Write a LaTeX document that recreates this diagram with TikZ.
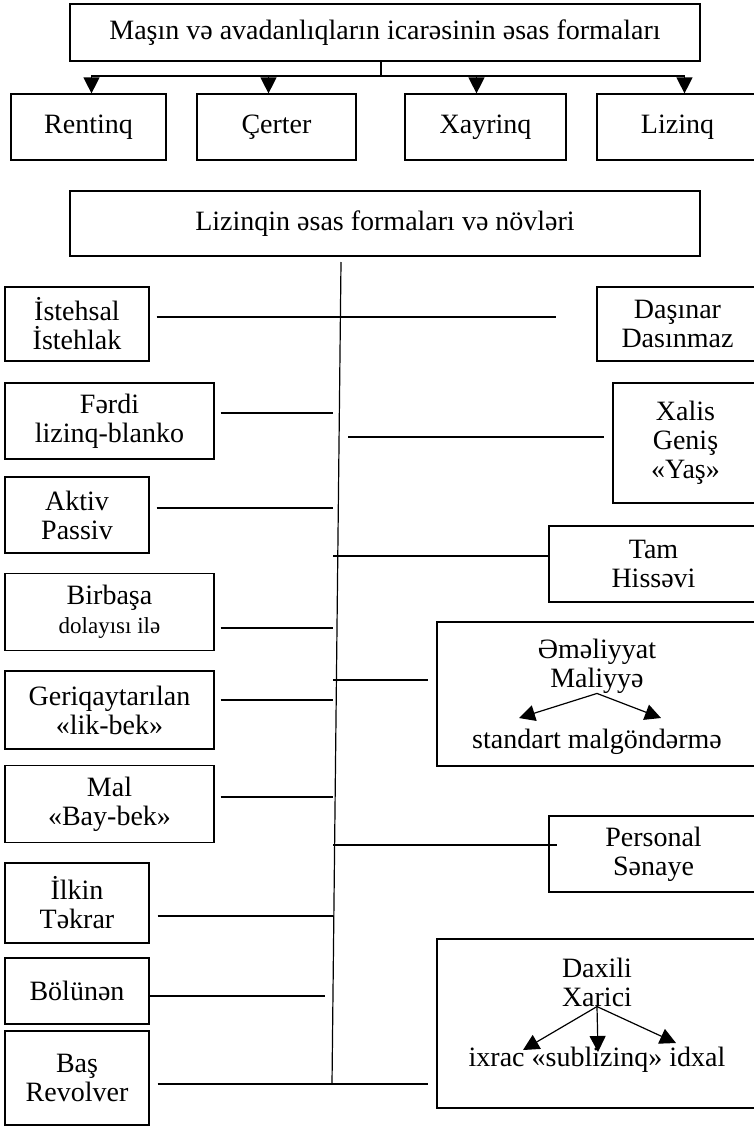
\documentclass[tikz,border=0pt]{standalone}
\usepackage{fontspec}
\setmainfont{Liberation Serif}
\usetikzlibrary{arrows.meta}
\tikzset{
  box/.style={draw, line width=1.2pt, align=center, inner sep=0pt},
  ln/.style={line width=1.2pt},
  arr/.style={line width=1.2pt, -{Triangle[length=16pt,width=16pt]}},
}
\begin{document}
\begin{tikzpicture}[x=1pt, y=-1pt, font=\fontsize{28}{29}\selectfont]
  \useasboundingbox (0,0) rectangle (753,1127);
  % top
  \node[box, minimum width=630, minimum height=57] (top) at (385,32.5) {Maşın və avadanlıqların icarəsinin əsas formaları};
  \node[box, minimum width=155, minimum height=66] (rent) at (88.5,127) {Rentinq};
  \node[box, minimum width=159, minimum height=66] (cert) at (276.5,127) {Çerter};
  \node[box, minimum width=161, minimum height=66] (xayr) at (485.5,127) {Xayrinq};
  \node[box, minimum width=161, minimum height=66] (liz) at (677.5,127) {Lizinq};
  \coordinate (bar) at (381,76);
  \draw[ln] (bar |- top.south) -- (bar);
  \draw[arr] (bar) -| ([xshift=3pt]rent.north);
  \draw[arr] (bar) -| ([xshift=-8pt]cert.north);
  \draw[arr] (bar) -| ([xshift=-9pt]xayr.north);
  \draw[arr] (bar) -| ([xshift=7pt]liz.north);
  % forms
  \node[box, minimum width=630, minimum height=65] (lform) at (385,223.5) {Lizinqin əsas formaları və növləri};
  \coordinate (sp1) at (341,262);
  \coordinate (sp2) at (332,1084);
  \coordinate (sp) at (333,0);
  \draw[ln] (sp1) -- (sp2);
  % left boxes
  \node[box, minimum width=144, minimum height=74] (ist) at (77,324) {İstehsal\\İstehlak};
  \node[box, minimum width=209, minimum height=76] (ferdi) at (109.5,421) {Fərdi\\lizinq-blanko};
  \node[box, minimum width=144, minimum height=76] (aktiv) at (77,515) {Aktiv\\Passiv};
  \node[box, minimum width=209, minimum height=77] (birb) at (109.5,612) {Birbaşa\\{\fontsize{23}{27}\selectfont dolayısı ilə}};
  \node[box, minimum width=209, minimum height=78] (geri) at (109.5,710) {Geriqaytarılan\\«lik-bek»};
  \node[box, minimum width=209, minimum height=77] (mal) at (109.5,804) {Mal\\«Bay-bek»};
  \node[box, minimum width=144, minimum height=80] (ilkin) at (77,903) {İlkin\\Təkrar};
  \node[box, minimum width=144, minimum height=66] (bolun) at (77,991) {Bölünən};
  \node[box, minimum width=144, minimum height=94] (bas) at (77,1078) {Baş\\Revolver};
  % right boxes
  \node[box, minimum width=161, minimum height=74] (dsh) at (677.5,324) {Daşınar\\Dasınmaz};
  \node[box, minimum width=145, minimum height=120] (xalis) at (685.5,443) {Xalis\\Geniş\\«Yaş»};
  \node[box, minimum width=209, minimum height=76] (tam) at (653.5,564) {Tam\\Hissəvi};
  \node[box, minimum width=321, minimum height=144] (emel) at (597.5,694) {};
  \node[box, minimum width=209, minimum height=76] (pers) at (653.5,854) {Personal\\Sənaye};
  \node[box, minimum width=321, minimum height=169] (dax) at (597.5,1023.5) {};
  % inside boxes
  \node[align=center, inner sep=0pt] (emt) at (597,666) {Əməliyyat\\Maliyyə};
  \node[inner sep=0pt] (std) at (597,742) {standart malgöndərmə};
  \coordinate (e1) at (519,718);
  \coordinate (e2) at (661,718);
  \draw[arr] (emt.south) -- (e1);
  \draw[arr] (emt.south) -- (e2);
  \node[align=center, inner sep=0pt] (dxk) at (597,982) {Daxili\\Xarici};
  \node[inner sep=0pt] (imp) at (597,1060) {ixrac «sublizinq» idxal};
  \coordinate (d1) at (523,1050);
  \coordinate (d2) at (598,1052);
  \coordinate (d3) at (676,1043);
  \draw[arr] (dxk.south) -- (d1);
  \draw[arr] (dxk.south) -- (d2);
  \draw[arr] (dxk.south) -- (d3);
  % lines
  \draw[ln, shorten >=40pt] ([xshift=7pt,yshift=7pt]ist.east) -- ([yshift=7pt]ist.east -| dsh.west);
  \draw[ln] ([xshift=6pt,yshift=8pt]ferdi.east) -- ([yshift=8pt]ferdi.east -| sp);
  \draw[ln] ([xshift=7pt,yshift=7pt]aktiv.east) -- ([yshift=7pt]aktiv.east -| sp);
  \draw[ln] ([xshift=6pt,yshift=-16pt]birb.east) -- ([yshift=-16pt]birb.east -| sp);
  \draw[ln] ([xshift=6pt,yshift=10pt]geri.east) -- ([yshift=10pt]geri.east -| sp);
  \draw[ln] ([xshift=6pt,yshift=7pt]mal.east) -- ([yshift=7pt]mal.east -| sp);
  \draw[ln] ([xshift=8pt,yshift=-13pt]ilkin.east) -- ([yshift=-13pt]ilkin.east -| sp);
  \draw[ln, shorten >=8pt] ([yshift=-5pt]bolun.east) -- ([yshift=-5pt]bolun.east -| sp);
  \draw[ln, shorten >=8pt] ([xshift=8pt,yshift=-6pt]bas.east) -- ([yshift=-6pt]bas.east -| dax.west);
  \draw[ln, shorten <=15pt, shorten >=8pt] ([yshift=6pt]xalis.west -| sp) -- ([yshift=6pt]xalis.west);
  \draw[ln] ([yshift=8pt]tam.west -| sp) -- ([yshift=8pt]tam.west);
  \draw[ln, shorten >=8pt] ([yshift=14pt]emel.west -| sp) -- ([yshift=14pt]emel.west);
  \draw[ln, shorten >=-9pt] ([yshift=9pt]pers.west -| sp) -- ([yshift=9pt]pers.west);
\end{tikzpicture}
\end{document}
